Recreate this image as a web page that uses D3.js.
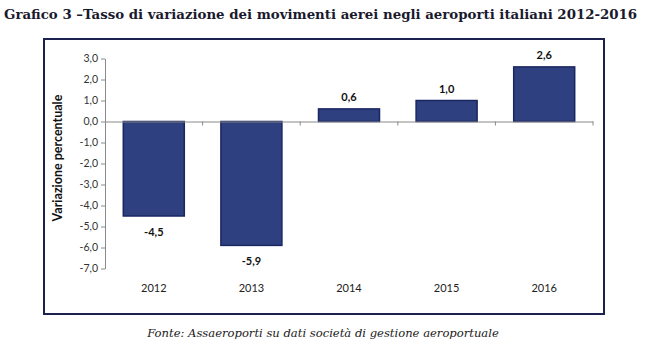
<!DOCTYPE html>
<html>
<head>
<meta charset="utf-8">
<script src="https://cdn.jsdelivr.net/npm/d3@7"></script>
<style>
  body { margin: 0; background: #fff; }
  svg { display: block; }
</style>
</head>
<body>
<div id="chart"></div>
<script>
const width = 650;
const height = 347;

const titleText = "Grafico 3 \u2013Tasso di variazione dei movimenti aerei negli aeroporti italiani 2012-2016";
const sourceText = "Fonte: Assaeroporti su dati società di gestione aeroportuale";
const axisLabel = "Variazione percentuale";

const years = ["2012", "2013", "2014", "2015", "2016"];
const values = [-4.5, -5.9, 0.6, 1.0, 2.6];
const yTicks = [3, 2, 1, 0, -1, -2, -3, -4, -5, -6, -7];

const barFill = "#2e4080";
const barStroke = "#1a2660";

// plain comma decimals, hyphen minus like the source
const fmt = (v) => v.toFixed(1).replace(".", ",");

function createSVG(container) {
  return d3
    .select(container)
    .append("svg")
    .attr("width", width)
    .attr("height", height);
}

// shrink font until the text fits the wanted width
function fitText(sel, target) {
  const size = +sel.attr("font-size");
  const w = sel.node().getComputedTextLength();
  if (w > target) sel.attr("font-size", (size * target) / w);
}

function drawChart(svg) {
  // title + frame + footer
  const title = svg
    .append("text")
    .attr("x", 4)
    .attr("y", 19)
    .attr("font-family", "DejaVu Serif, serif")
    .attr("font-weight", "bold")
    .attr("font-size", 15)
    .attr("fill", "#1a1a2e")
    .text(titleText);
  fitText(title, 634);

  svg
    .append("rect")
    .attr("x", 44)
    .attr("y", 39)
    .attr("width", 560)
    .attr("height", 275)
    .attr("fill", "none")
    .attr("stroke", "#1c2150")
    .attr("stroke-width", 2);

  const source = svg
    .append("text")
    .attr("x", 323)
    .attr("y", 337)
    .attr("text-anchor", "middle")
    .attr("font-family", "DejaVu Serif, serif")
    .attr("font-style", "italic")
    .attr("font-size", 12.5)
    .attr("fill", "#1a1a1a")
    .text(sourceText);
  fitText(source, 352);

  const x = d3
    .scaleBand()
    .domain(years)
    .range([105, 593])
    .paddingInner(0.375)
    .paddingOuter(0.1875);

  const y = d3.scaleLinear().domain([-7, 3]).range([268.5, 58.5]);

  // y axis
  const yAxis = svg
    .append("g")
    .attr("transform", "translate(105,0)")
    .call(
      d3.axisLeft(y).tickValues(yTicks).tickFormat(fmt).tickSize(4).tickSizeOuter(0)
    );
  yAxis.select(".domain").attr("stroke", "#8a8a8a");
  yAxis.selectAll(".tick line").attr("stroke", "#8a8a8a");
  yAxis
    .selectAll(".tick text")
    .attr("x", -7)
    .attr("font-family", "Lato, sans-serif")
    .attr("font-size", 10.5)
    .attr("fill", "#333");

  // bars
  svg
    .append("g")
    .selectAll("rect")
    .data(values)
    .join("rect")
    .attr("x", (d, i) => x(years[i]))
    .attr("y", (d) => y(Math.max(0, d)))
    .attr("width", x.bandwidth())
    .attr("height", (d) => Math.abs(y(d) - y(0)))
    .attr("fill", barFill)
    .attr("stroke", barStroke)
    .attr("stroke-width", 1.5);

  // zero line with category ticks
  const zeroAxis = svg
    .append("g")
    .attr("transform", `translate(0,${y(0)})`)
    .call(d3.axisBottom(x).tickValues([]).tickSizeOuter(0));
  zeroAxis.select(".domain").attr("stroke", "#8a8a8a");
  zeroAxis
    .selectAll("line.sep")
    .data(years)
    .join("line")
    .attr("class", "sep")
    .attr("x1", (d) => x(d) + x.bandwidth() + (x.step() - x.bandwidth()) / 2)
    .attr("x2", (d) => x(d) + x.bandwidth() + (x.step() - x.bandwidth()) / 2)
    .attr("y1", 0)
    .attr("y2", 4)
    .attr("stroke", "#8a8a8a");

  // value labels
  svg
    .append("g")
    .selectAll("text")
    .data(values)
    .join("text")
    .attr("x", (d, i) => x(years[i]) + x.bandwidth() / 2)
    .attr("y", (d) => (d < 0 ? y(d) + 20 : y(d) - 8))
    .attr("text-anchor", "middle")
    .attr("font-family", "Lato, sans-serif")
    .attr("font-weight", "bold")
    .attr("font-size", 11)
    .attr("fill", "#111")
    .text((d) => fmt(d));

  // category labels
  svg
    .append("g")
    .selectAll("text")
    .data(years)
    .join("text")
    .attr("x", (d) => x(d) + x.bandwidth() / 2)
    .attr("y", 292)
    .attr("text-anchor", "middle")
    .attr("font-family", "Lato, sans-serif")
    .attr("font-size", 11)
    .attr("fill", "#222")
    .text((d) => d);

  // rotated axis title
  svg
    .append("text")
    .attr("transform", "translate(62,158) rotate(-90)")
    .attr("text-anchor", "middle")
    .attr("font-family", "Lato, sans-serif")
    .attr("font-weight", "bold")
    .attr("font-size", 12.5)
    .attr("fill", "#111")
    .text(axisLabel);
}

const chartSVG = createSVG("#chart");
drawChart(chartSVG);
</script>
</body>
</html>
